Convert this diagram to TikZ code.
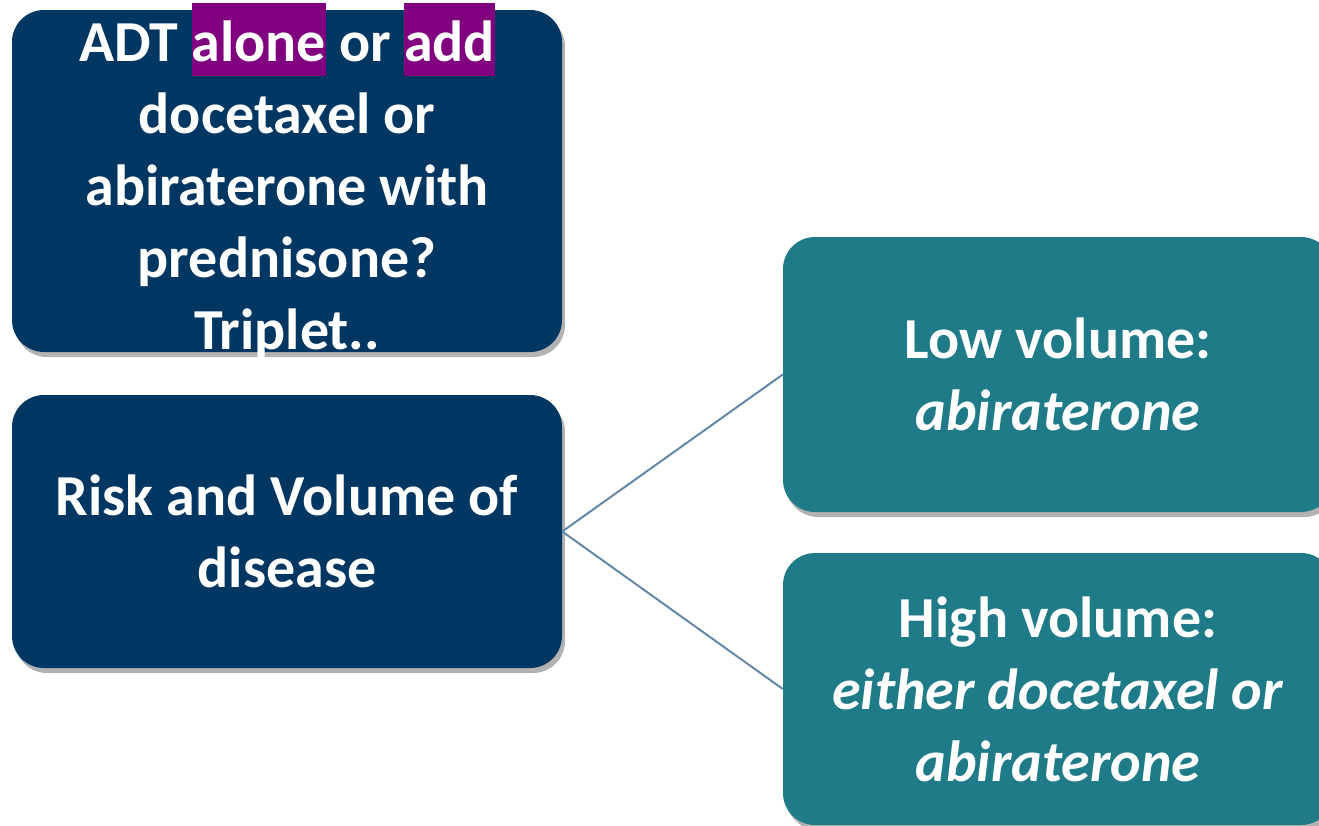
\documentclass[tikz,border=0pt]{standalone}
\usepackage{fontspec}
\setmainfont{Carlito}
\usepackage{tikz}
\usetikzlibrary{shadows}
\definecolor{navybox}{RGB}{0,55,98}
\definecolor{tealbox}{RGB}{31,123,135}
\definecolor{hlpurple}{RGB}{128,0,128}
\definecolor{linkgray}{RGB}{100,135,165}
\newcommand{\hlword}[1]{{\setlength{\fboxsep}{0pt}\colorbox{hlpurple}{\rule[-14pt]{0pt}{73pt}#1}}}

\begin{document}
\begin{tikzpicture}[x=1pt, y=-1pt,
  every node/.style={font=\fontsize{58}{72}\selectfont\bfseries, text=white},
  box/.style={rounded corners=32pt, minimum width=550pt, inner sep=0pt, align=center,
              drop shadow={shadow xshift=3pt, shadow yshift=-5pt, opacity=0.3, fill=black}},
  navy/.style={box, fill=navybox},
  tealb/.style={box, fill=tealbox},
  link/.style={draw=linkgray, line width=2pt}
]
\clip (0,0) rectangle (1319,825);

% Left column
\node[navy, minimum height=342pt] (question) at (287, 181) {};
\node[align=center, inner sep=0pt] (questiontext) at (question.center)
  {ADT \hlword{alone} or \hlword{add}\\docetaxel or\\abiraterone with\\prednisone?\\Triplet..};

\node[navy, minimum height=273pt] (risk) at (287, 531.5)
  {Risk and Volume of\\disease};

% Right column
\node[tealb, minimum height=275pt] (low) at (1058, 374.5)
  {Low volume:\\\textit{abiraterone}};
\node[tealb, minimum height=272pt] (high) at (1058, 689)
  {High volume:\\\textit{either docetaxel or}\\\textit{abiraterone}};

% Links
\draw[link] (risk.east) -- (low.west);
\draw[link] (risk.east) -- (high.west);

\end{tikzpicture}
\end{document}
